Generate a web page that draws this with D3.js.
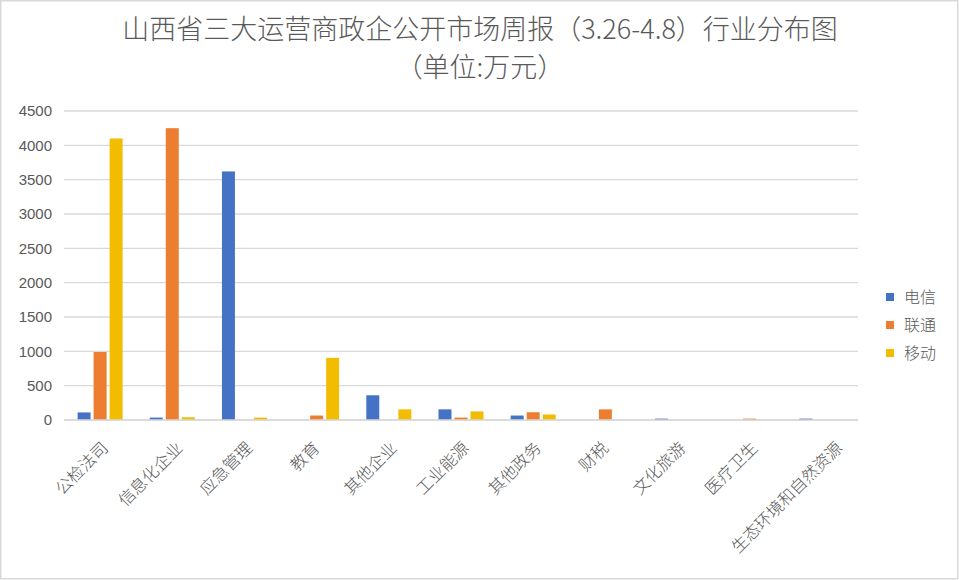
<!DOCTYPE html>
<html><head><meta charset="utf-8">
<script src="https://cdn.jsdelivr.net/npm/d3@7"></script>
<style>body{margin:0;background:#fff}svg{display:block}</style>
</head><body>
<svg id="c" width="959" height="580"></svg>
<script>
const categories = ["公检法司","信息化企业","应急管理","教育","其他企业","工业能源","其他政务","财税","文化旅游","医疗卫生","生态环境和自然资源"];
const seriesNames = ["电信","联通","移动"];
const dianxin = [110, 35, 3620, 0, 360, 155, 65, 0, 20, 0, 20];
const liantong = [990, 4250, 0, 65, 0, 35, 113, 155, 0, 20, 0];
const yidong = [4100, 40, 35, 905, 155, 125, 80, 0, 0, 0, 0];
const yTicks = [0,500,1000,1500,2000,2500,3000,3500,4000,4500];
const colors = ["#4472c4","#ed7d31","#f2bc00"];

(function(){
const seriesValues = [dianxin, liantong, yidong];
const svg = d3.select("#c");
const W = 959, H = 580;
const pL = 64, pR = 858, pT = 111, pB = 420;
const txt = "#595959";

svg.append("rect").attr("x",0.75).attr("y",0.75).attr("width",W-2).attr("height",H-2)
  .attr("fill","#fff").attr("stroke","#d9d9d9").attr("stroke-width",1.5);

const x = d3.scaleBand().domain(categories).range([pL,pR]).paddingInner(0).paddingOuter(0);
const y = d3.scaleLinear().domain([0,4500]).range([pB, pT]);
const xs = d3.scaleBand().domain(seriesNames).range([0, 45]).paddingInner(0.19);

svg.append("g").selectAll("line").data(yTicks).join("line")
  .attr("x1",pL).attr("x2",pR)
  .attr("y1",d=>y(d)).attr("y2",d=>y(d))
  .attr("stroke","#d9d9d9").attr("stroke-width",1.3);

const yAxis = d3.axisLeft(y).tickValues(yTicks).tickSize(0).tickPadding(12).tickFormat(d3.format("d"));
const ya = svg.append("g").attr("transform",`translate(${pL},0)`).call(yAxis);
ya.select(".domain").remove();
ya.selectAll("text").attr("fill",txt).attr("font-size","15px")
  .attr("font-family","'Liberation Sans', Arial, sans-serif");

const groupOffset = (x.bandwidth() - 45)/2;
seriesValues.forEach((vals, si) => {
  svg.append("g").selectAll("rect").data(vals.map((v,i)=>({c:categories[i],v})))
    .join("rect")
    .attr("x", d => x(d.c) + groupOffset + xs(seriesNames[si]))
    .attr("width", xs.bandwidth())
    .attr("y", d => y(d.v))
    .attr("height", d => pB - y(d.v))
    .attr("fill", colors[si]);
});

svg.append("line").attr("x1",pL).attr("x2",pR).attr("y1",pB).attr("y2",pB)
  .attr("stroke","#d9d9d9").attr("stroke-width",1.5);

const xAxis = d3.axisBottom(x).tickSize(0).tickPadding(0);
const xa = svg.append("g").attr("transform",`translate(0,${pB})`).call(xAxis);
xa.select(".domain").remove();
xa.selectAll("text")
  .attr("fill",txt).attr("font-size","16.5px")
  .attr("font-family","'Noto Sans CJK SC', sans-serif").attr("font-weight",300)
  .attr("text-anchor","end")
  .attr("dy",null).attr("y",0)
  .attr("transform",d=>`translate(${2.5*d.length - 1},29) rotate(-45)`);

const tg = svg.append("g").attr("fill",txt).attr("font-family","'Noto Sans CJK SC', sans-serif")
  .attr("font-size","27px").attr("font-weight",300).attr("text-anchor","middle");
tg.append("text").attr("x",480).attr("y",39).text("山西省三大运营商政企公开市场周报（3.26-4.8）行业分布图");
tg.append("text").attr("x",480).attr("y",77).text("（单位:万元）");

const lg = svg.append("g");
seriesNames.forEach((n,i)=>{
  const yy = 297 + i*28;
  lg.append("rect").attr("x",886).attr("y",yy-4).attr("width",8).attr("height",8).attr("fill",colors[i]);
  lg.append("text").attr("x",904).attr("y",yy+6).text(n)
    .attr("fill",txt).attr("font-size","16px")
    .attr("font-family","'Noto Sans CJK SC', sans-serif").attr("font-weight",300);
});
})();
</script>
</body></html>
